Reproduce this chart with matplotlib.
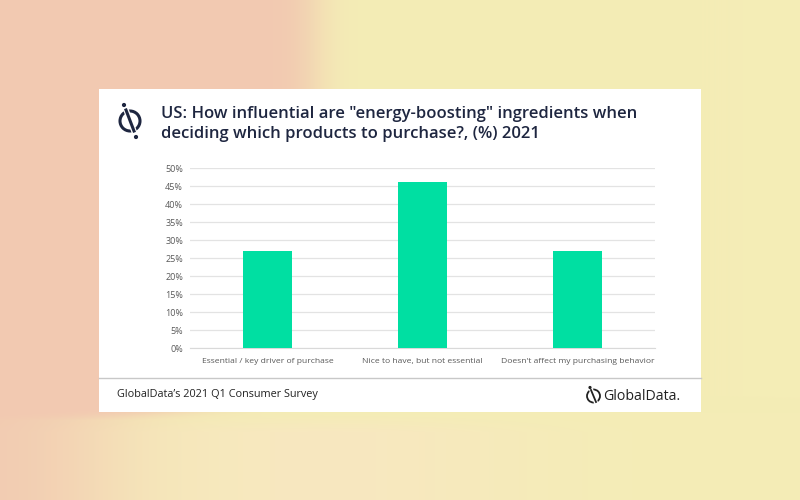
import numpy as np
import matplotlib.pyplot as plt
from matplotlib.patches import Rectangle, Circle
from matplotlib.lines import Line2D

categories = ["Essential / key driver of purchase", "Nice to have, but not essential",
              "Doesn't affect my purchasing behavior"]
values = [27, 46, 27]
yticks = [0, 5, 10, 15, 20, 25, 30, 35, 40, 45, 50]
ytick_labels = [f"{v}%" for v in yticks]

W, H = 800, 500
fig = plt.figure(figsize=(8, 5), dpi=100)

# blurred background
bg = fig.add_axes([0, 0, 1, 1])
xx, yy = np.meshgrid(np.arange(W), np.arange(H))
salmon = np.array([242, 201, 177]) / 255
yellow = np.array([244, 237, 182]) / 255
pale = np.array([249, 230, 195]) / 255
s = np.clip((yy - 395) / 25.0, 0, 1)
center = 315 * (1 - s) + 110 * s
width = 12 * (1 - s) + 40 * s
t = 1 / (1 + np.exp(-(xx - center) / width))
img = salmon[None, None, :] * (1 - t[..., None]) + yellow[None, None, :] * t[..., None]
bot = np.clip((yy - 412) / 20, 0, 1) * np.exp(-((xx - 330) / 200.0) ** 2) * 0.75
img = img * (1 - bot[..., None]) + pale[None, None, :] * bot[..., None]
bg.imshow(img, extent=[0, W, H, 0], aspect='auto', interpolation='bilinear')
bg.set_xlim(0, W)
bg.set_ylim(H, 0)
bg.axis('off')

# white panel
bg.add_patch(Rectangle((99, 89), 602, 323, facecolor='white', edgecolor='none', zorder=2))
bg.add_line(Line2D([99, 701], [378, 378], color='#C8C8C8', lw=1, zorder=3))

navy = '#1E2640'
# logo icon
bg.add_patch(Circle((130, 121), 10, facecolor='none', edgecolor=navy, lw=2.2, zorder=4))
bg.add_line(Line2D([125, 135], [107, 134], color='white', lw=4, zorder=4.5))
bg.add_line(Line2D([126, 134], [110, 131], color=navy, lw=2.2, zorder=5))
bg.add_patch(Circle((124, 105), 1.4, color=navy, zorder=5))
bg.add_patch(Circle((136, 137), 1.4, color=navy, zorder=5))

fig.text(161 / W, 1 - 114 / H, 'US: How influential are "energy-boosting" ingredients when',
         fontsize=12, fontweight='semibold', family='Open Sans', color=navy, va='center')
fig.text(161 / W, 1 - 134 / H, 'deciding which products to purchase?, (%) 2021',
         fontsize=12, fontweight='semibold', family='Open Sans', color=navy, va='center')

fig.text(117 / W, 1 - 395 / H, "GlobalData\u2019s 2021 Q1 Consumer Survey",
         fontsize=7.8, family='Open Sans', color='#222222', va='center')
# GlobalData logo
bg.add_patch(Circle((593.5, 396), 6.5, facecolor='none', edgecolor='#222222', lw=1.3, zorder=4))
bg.add_line(Line2D([590.5, 596.5], [388, 404], color='white', lw=3, zorder=4.5))
bg.add_line(Line2D([591, 596], [390, 402], color='#222222', lw=1.3, zorder=5))
bg.add_patch(Circle((590, 387.5), 0.9, color='#222222', zorder=5))
fig.text(603 / W, 1 - 396 / H, "GlobalData.", fontsize=10.2, family='Open Sans',
         color='#222222', va='center')

# chart axes
ax = fig.add_axes([190 / W, 1 - 348 / H, 465 / W, 180 / H])
ax.set_zorder(5)
ax.patch.set_alpha(0)
x = np.arange(len(categories))
ax.bar(x, values, width=0.32, color='#00DFA2', zorder=3)
ax.set_xlim(-0.5, len(categories) - 0.5)
ax.set_ylim(0, 50)
ax.set_yticks(yticks)
ax.set_yticklabels(ytick_labels)
ax.set_xticks(x)
ax.set_xticklabels(categories)
ax.grid(axis='y', color='#E3E3E3', lw=0.9, zorder=0)
for sp in ax.spines.values():
    sp.set_visible(False)
ax.spines['bottom'].set_visible(True)
ax.spines['bottom'].set_color('#D9D9D9')
ax.tick_params(axis='both', length=0, labelcolor='#595959')
ax.tick_params(axis='y', pad=5, labelsize=6.5)
ax.tick_params(axis='x', pad=7, labelsize=6.1)
for lbl in ax.get_xticklabels() + ax.get_yticklabels():
    lbl.set_family('Open Sans')

fig.savefig('out.png', dpi=100)
